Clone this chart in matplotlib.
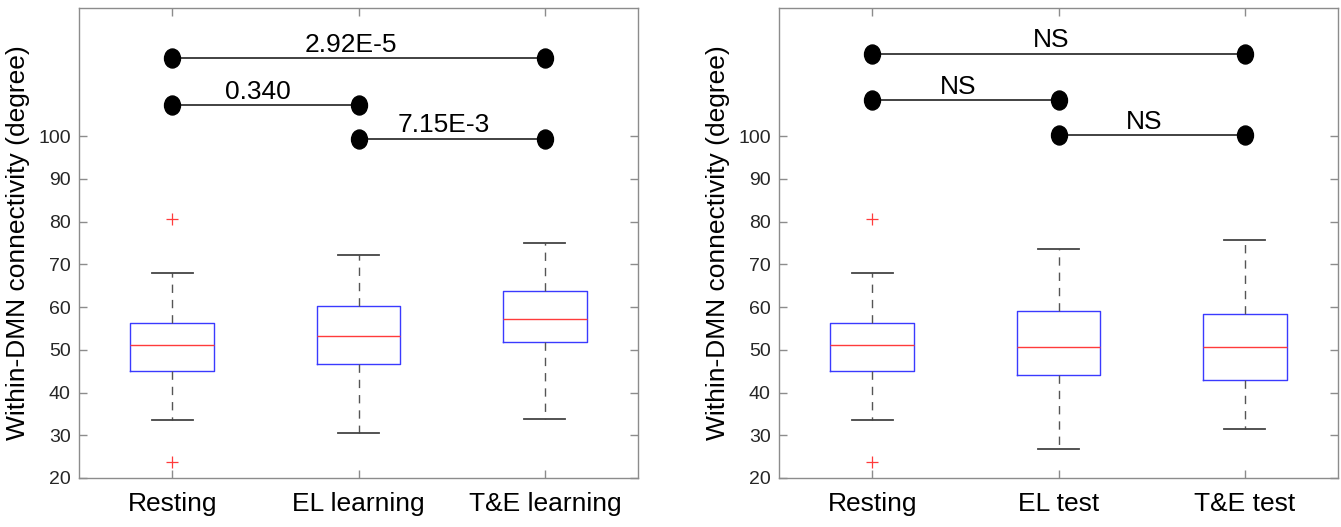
import matplotlib
matplotlib.use("Agg")
import matplotlib.pyplot as plt
import numpy as np
from matplotlib.path import Path
from matplotlib import font_manager

plt.rcParams['font.family'] = ['Liberation Sans', 'DejaVu Sans']

# ---------------- data ----------------
left_labels = ["Resting", "EL learning", "T&E learning"]
right_labels = ["Resting", "EL test", "T&E test"]

# box statistics: lower whisker, Q1, median, Q3, upper whisker
left_whislo = [33.6, 30.5, 33.9]
left_q1 = [45.0, 46.7, 51.9]
left_med = [51.1, 53.3, 57.2]
left_q3 = [56.2, 60.2, 63.7]
left_whishi = [68.0, 72.1, 74.9]
left_fliers = [[80.7, 23.7], [], []]

right_whislo = [33.6, 26.9, 31.5]
right_q1 = [45.0, 44.2, 42.9]
right_med = [51.1, 50.7, 50.7]
right_q3 = [56.2, 59.2, 58.4]
right_whishi = [68.0, 73.7, 75.7]
right_fliers = [[80.7, 23.7], [], []]

# significance comparisons: (group a, group b, y level, label)
left_pairs = [(1, 3), (1, 2), (2, 3)]
left_levels = [118.2, 107.2, 99.3]
left_texts = ["2.92E-5", "0.340", "7.15E-3"]

right_pairs = [(1, 3), (1, 2), (2, 3)]
right_levels = [119.2, 108.4, 100.2]
right_texts = ["NS", "NS", "NS"]

yticks = [20, 30, 40, 50, 60, 70, 80, 90, 100]

# ---------------- styling ----------------
avail = {f.name for f in font_manager.fontManager.ttflist}
narrow = 'Liberation Sans Narrow' if 'Liberation Sans Narrow' in avail else 'Liberation Sans'
tick_size = 16 if narrow == 'Liberation Sans Narrow' else 14

W, H = 1341, 527
fig = plt.figure(figsize=(W / 100, H / 100), dpi=100)
ax_l = fig.add_axes([79 / W, 49 / H, 559 / W, 470 / H])
ax_r = fig.add_axes([779 / W, 49 / H, 559 / W, 470 / H])

circ = Path.unit_circle()
ell = Path(circ.vertices * np.array([0.84, 1.0]), circ.codes)

spine_col = '#8c8c8c'
tick_col = '#262626'


def draw(ax, labels, wlo, q1, med, q3, whi, fl, pairs, levels, texts):
    stats = []
    for i in range(len(labels)):
        stats.append(dict(whislo=wlo[i], q1=q1[i], med=med[i], q3=q3[i],
                          whishi=whi[i], fliers=fl[i], label=labels[i]))
    pos = list(range(1, len(labels) + 1))
    ax.bxp(stats, positions=pos, widths=0.45, showfliers=True,
           boxprops=dict(color='#3a3aff', linewidth=1.0),
           medianprops=dict(color='#ff3b3b', linewidth=1.0),
           whiskerprops=dict(color='#555555', linewidth=1.0,
                             linestyle=(0, (6, 5))),
           capprops=dict(color='#444444', linewidth=1.3),
           capwidths=0.22,
           flierprops=dict(marker='+', markeredgecolor='#ff3b3b',
                           markersize=8, markeredgewidth=0.9,
                           linestyle='none'))
    for (a, b), y, t in zip(pairs, levels, texts):
        ax.plot([a, b], [y, y], color='#333333', linewidth=1.3, zorder=3)
        ax.plot([a, b], [y, y], linestyle='none', marker=ell,
                markersize=19 * 0.72, color='black', zorder=4)
        ax.text((a + b) / 2 - 0.04, y + 0.4, t, ha='center', va='bottom',
                fontsize=19, color='black')
    ax.set_xlim(0.5, 3.5)
    ax.set_ylim(20, 130)
    ax.set_yticks(yticks)
    ax.set_xticks(pos)
    ax.set_xticklabels(labels, fontsize=19, color='black')
    ax.set_yticklabels([str(v) for v in yticks], family=[narrow, 'DejaVu Sans'],
                       fontsize=tick_size, color=tick_col)
    ax.tick_params(direction='in', top=True, right=True, length=6,
                   color=spine_col, width=1.0)
    ax.tick_params(axis='x', pad=10)
    ax.tick_params(axis='y', pad=6)
    for s in ax.spines.values():
        s.set_color(spine_col)
        s.set_linewidth(1.0)
    ax.set_ylabel("Within-DMN connectivity (degree)", fontsize=19,
                  color='black', labelpad=6)


draw(ax_l, left_labels, left_whislo, left_q1, left_med, left_q3, left_whishi,
     left_fliers, left_pairs, left_levels, left_texts)
draw(ax_r, right_labels, right_whislo, right_q1, right_med, right_q3,
     right_whishi, right_fliers, right_pairs, right_levels, right_texts)

fig.savefig("out.png", dpi=100)
